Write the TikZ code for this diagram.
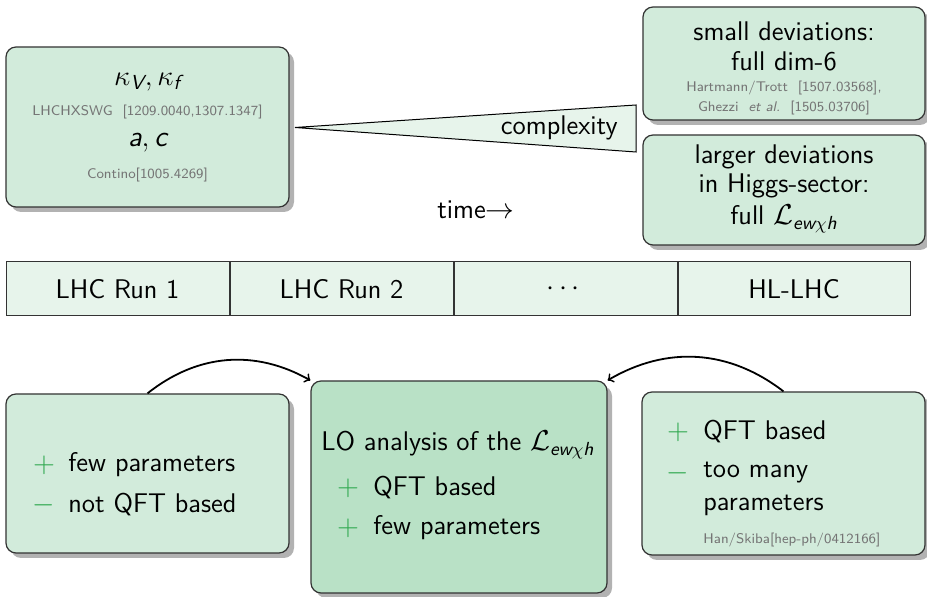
\documentclass[tikz,border=0pt]{standalone}
\usepackage{amsmath}
\usetikzlibrary{shadows}
\definecolor{boxfill}{HTML}{D2EBDB}
\definecolor{keyfill}{HTML}{B9E1C6}
\definecolor{barfill}{HTML}{E7F4EB}
\definecolor{edge}{HTML}{333333}
\definecolor{refgray}{HTML}{757575}
\definecolor{signgreen}{HTML}{2FA84F}
\newcommand\sfit[1]{\text{\sffamily\itshape #1}}
\newcommand\plusmark{\textcolor{signgreen}{$+$}}
\newcommand\minusmark{\textcolor{signgreen}{$-$}}
\tikzset{
  main/.style={font=\sffamily\fontsize{13.5}{16}\selectfont, inner sep=0pt},
  bigmath/.style={font=\sffamily\fontsize{14.5}{17}\selectfont, inner sep=0pt},
  reftext/.style={font=\sffamily\fontsize{7}{8.5}\selectfont, text=refgray, inner sep=0pt},
  panel/.style={draw=edge, line width=0.6pt, fill=boxfill, rounded corners=5pt,
    drop shadow={shadow xshift=2.5pt, shadow yshift=-2.5pt, fill=black!30, opacity=1},
    inner sep=0pt},
  keypanel/.style={panel, fill=keyfill},
  cell/.style={draw=edge, line width=0.5pt, fill=barfill, minimum width=223*0.5pt,
    minimum height=54*0.5pt, inner sep=0pt, font=\sffamily\fontsize{13.5}{16}\selectfont},
  arc/.style={->, line width=0.9pt, black},
}
\begin{document}
\begin{tikzpicture}[x=0.5pt, y=-0.5pt]
\useasboundingbox (0,0) rectangle (927,597);

% --- upper boxes ---
\node[panel, minimum width=283*0.5pt, minimum height=160*0.5pt] (tl) at (147.5,127) {};
\node[bigmath] (kap) at (147.5,82) {$\kappa_{\sfit{V}}, \kappa_{\sfit{f}}$};
\node[reftext] (hxswg) at (147.5,112) {LHCHXSWG\ \ [1209.0040,1307.1347]};
\node[bigmath] (ac) at (147.5,143) {$\sfit{a}, \sfit{c}$};
\node[reftext] (contino) at (147.5,175) {Contino[1005.4269]};

\node[panel, minimum width=282*0.5pt, minimum height=113*0.5pt] (small) at (784,63.5) {};
\node[main] (s1) at (784,31) {small deviations:};
\node[main] (s2) at (784,61) {full dim-6};
\node[reftext] (s3) at (784,88) {Hartmann/Trott\ \ [1507.03568],};
\node[reftext] (s4) at (784,108) {Ghezzi\ \ \textit{et al.}\ \ [1505.03706]};

\node[panel, minimum width=282*0.5pt, minimum height=110*0.5pt] (large) at (784,190) {};
\node[main] (l1) at (784,157) {larger deviations};
\node[main] (l2) at (784,186) {in Higgs-sector:};
\node[main] (l3) at (784,219) {full $\mathcal{L}_{\sfit{ew}\chi\sfit{h}}$};

% --- complexity wedge ---
\coordinate (apex) at (295,127.5);
\coordinate (wtop) at (636,105);
\coordinate (wbot) at (636,152);
\filldraw[draw=black, line width=0.5pt, fill=barfill] (apex) -- (wtop) -- (wbot) -- cycle;
\node[main, anchor=east] (cplx) at (618,128) {complexity};

\node[main] (time) at (476,210) {time$\rightarrow$};

% --- run bar ---
\node[cell] (run1) at (117.5,289) {LHC Run 1};
\node[cell, anchor=west] (run2) at (run1.east) {LHC Run 2};
\node[cell, anchor=west] (runs) at (run2.east) {$\cdots$};
\node[cell, anchor=west, minimum width=232*0.5pt] (hl) at (runs.east) {HL-LHC};

% --- lower boxes ---
\node[panel, minimum width=283*0.5pt, minimum height=159*0.5pt] (kappa) at (147.5,473.5) {};
\node[main] (kp1s) at (44,465) {\plusmark};
\node[main, anchor=west] (kp1) at (68,465) {few parameters};
\node[main] (kp2s) at (44,505) {\minusmark};
\node[main, anchor=west] (kp2) at (68,505) {not QFT based};

\node[keypanel, minimum width=296*0.5pt, minimum height=212*0.5pt] (lo) at (459,487) {};
\node[main, anchor=west] (lot) at (321,445) {LO analysis of the $\mathcal{L}_{\sfit{ew}\chi\sfit{h}}$};
\node[main] (lo1s) at (348,488) {\plusmark};
\node[main, anchor=west] (lo1) at (373,488) {QFT based};
\node[main] (lo2s) at (348,528) {\plusmark};
\node[main, anchor=west] (lo2) at (373,528) {few parameters};

\node[panel, minimum width=283*0.5pt, minimum height=163*0.5pt] (dim6) at (783.5,473.5) {};
\node[main] (d1s) at (678,432) {\plusmark};
\node[main, anchor=west] (d1) at (703,432) {QFT based};
\node[main] (d2s) at (678,473) {\minusmark};
\node[main, anchor=west] (d2) at (703,473) {too many};
\node[main, anchor=west] (d3) at (703,505) {parameters};
\node[reftext, anchor=west] (d4) at (703,540) {Han/Skiba[hep-ph/0412166]};

% --- arrows towards the LO analysis ---
\draw[arc] (kappa.north) to[bend left=34] (lo.north west);
\draw[arc] (dim6.north) to[bend right=34] (lo.north east);
\end{tikzpicture}
\end{document}
